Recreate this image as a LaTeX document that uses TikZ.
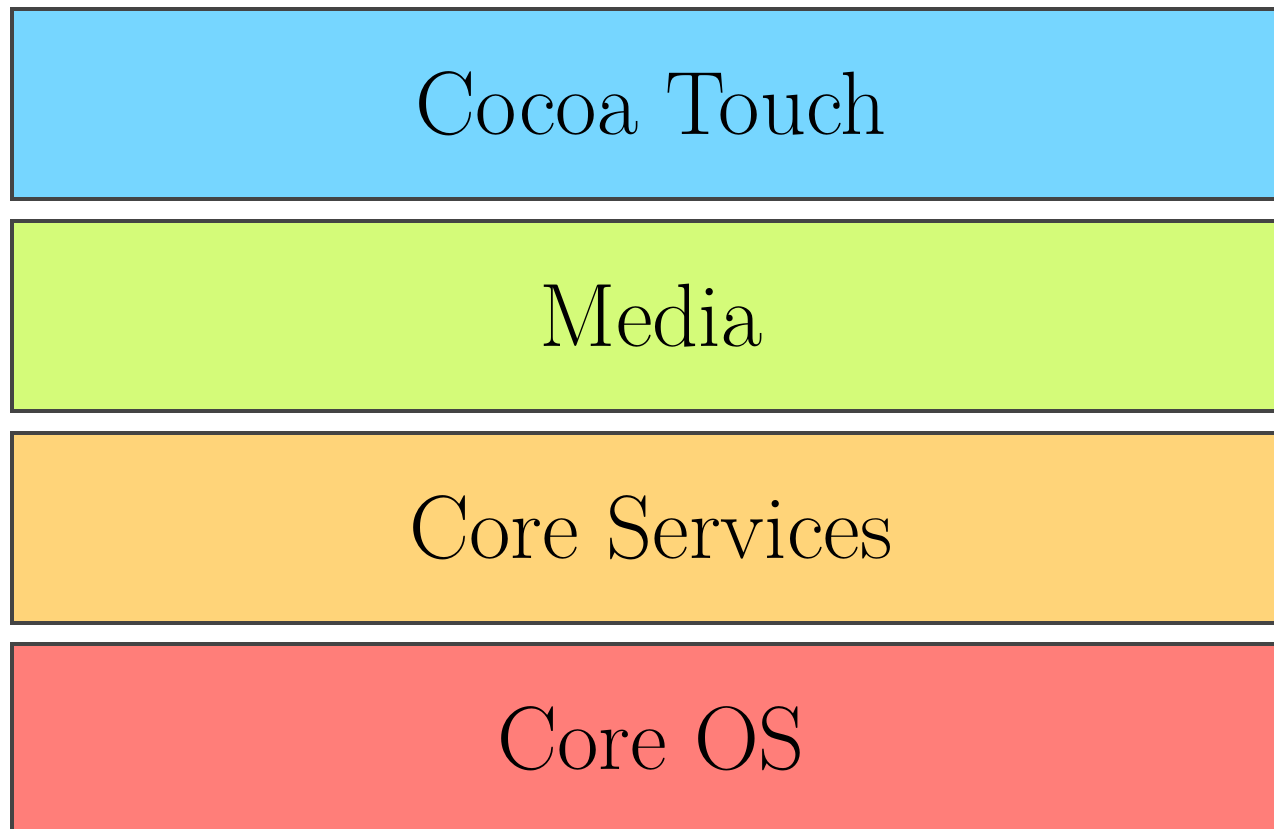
\documentclass[tikz,border=0pt]{standalone}
\usepackage{tikz}
\usetikzlibrary{calc}
\definecolor{touchblue}{HTML}{76D6FF}
\definecolor{mediagreen}{HTML}{D4FB79}
\definecolor{servorange}{HTML}{FFD479}
\definecolor{osred}{HTML}{FF7E79}
\definecolor{edgegray}{HTML}{444444}
\tikzset{
    my-layer/.style={
        draw=edgegray, line width=2pt, shape=rectangle, inner sep=0pt,
        minimum width=639pt, minimum height=95pt,
        font=\fontsize{45}{54}\selectfont
    },
}

\begin{document}
\begin{tikzpicture}[x=0.5pt, y=-0.5pt]

        % FRAME
        \useasboundingbox (0,0) rectangle (1274,829);

        % LAYERS
        \node[my-layer, fill=touchblue]  (COCOA)    at (651,104)                {Cocoa Touch};
        \node[my-layer, fill=mediagreen] (MEDIA)    at ($(COCOA) + (0,212)$)    {Media};
        \node[my-layer, fill=servorange] (SERVICES) at ($(MEDIA) + (0,211.5)$)  {Core Services};
        \node[my-layer, fill=osred]      (COREOS)   at ($(SERVICES) + (0,211.5)$) {Core OS};

\end{tikzpicture}
\end{document}
